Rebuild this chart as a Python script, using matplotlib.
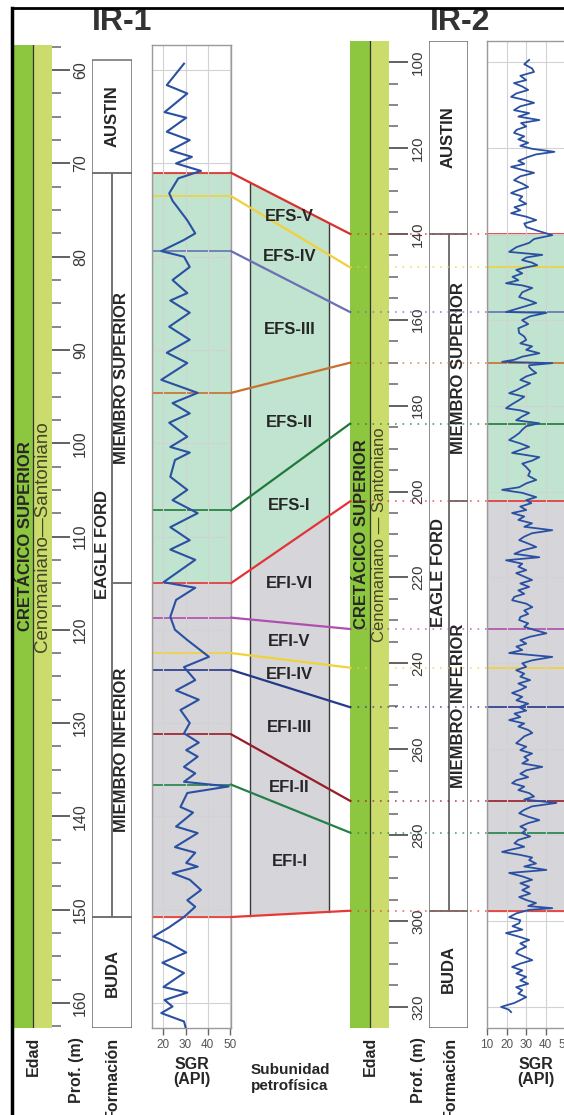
import matplotlib
matplotlib.use('Agg')
import matplotlib.pyplot as plt
from matplotlib.patches import Rectangle
from matplotlib.ticker import MultipleLocator

plt.rcParams['font.family'] = ['Liberation Sans', 'DejaVu Sans']

# ---------------- data ----------------
ir1_depth = [59.3, 61.6, 62.5, 64.5, 65.1, 66.6, 67.5, 68.6, 69.3, 70.0, 70.8, 71.6, 73.2, 74.0,
             76.1, 77.5, 78.2, 79.4, 80.0, 81.1, 82.5, 83.9, 84.7, 86.0, 87.5, 88.9, 90.3, 91.4,
             93.2, 94.6, 95.7, 96.8, 97.8, 99.3, 100.4, 101.0, 101.8, 103.6, 105.0, 106.1, 107.5,
             109.0, 110.4, 111.4, 112.5, 114.9, 115.5, 116.8, 118.6, 120.0, 121.1, 122.9, 124.0,
             125.4, 126.5, 127.5, 128.6, 130.0, 131.1, 132.1, 132.9, 133.6, 134.7, 135.4, 136.3,
             136.8, 137.5, 139.0, 139.6, 141.1, 141.8, 143.3, 143.9, 145.0, 145.4, 146.1, 146.8,
             147.9, 149.0, 149.7, 150.8, 151.9, 152.9, 153.6, 154.6, 155.7, 156.8, 158.3, 158.9,
             159.7, 160.4, 161.1, 162.0, 162.6]
ir1_sgr = [29.3, 21.5, 30.8, 20.5, 30.3, 21.5, 31.9, 23.1, 32.9, 25.7, 37.0, 26.7, 22.6, 24.1,
           30.8, 34.4, 29.3, 19.0, 29.3, 31.9, 24.1, 30.8, 23.1, 31.9, 22.6, 31.9, 21.5, 30.8,
           19.0, 35.5, 24.1, 31.9, 22.6, 30.8, 23.1, 31.9, 25.2, 23.1, 30.8, 24.1, 35.5,
           23.1, 31.9, 23.1, 34.4, 20.0, 34.4, 25.7, 23.1, 25.2, 30.8, 40.6, 29.3,
           34.4, 25.7, 36.0, 27.7, 31.9, 29.3, 36.0, 30.3, 35.5, 29.3, 34.4, 29.3,
           49.5, 30.8, 27.7, 33.4, 25.7, 35.5, 25.2, 34.4, 30.3, 35.5, 24.1, 31.9,
           37.0, 30.8, 34.4, 29.3, 22.6, 15.4, 22.6, 30.3, 19.5, 29.3, 20.0, 30.8,
           20.5, 24.1, 19.0, 29.3, 30.0]

ir2_depth = [99.5, 100.5, 101.5, 102.3, 103.2, 104.2, 104.9, 105.7, 106.5, 107.3, 108.1, 108.8,
             109.5, 110.3, 111.2, 111.9, 112.7, 113.5, 114.2, 115.0, 115.8, 116.5, 117.3, 118.0,
             118.8, 119.5, 120.2, 120.9, 121.5, 122.1, 123.0, 123.7, 124.4, 125.1, 125.8, 126.6,
             127.5, 128.3, 129.1, 129.8, 130.5, 131.3, 132.1, 133.0, 133.8, 134.5, 135.2, 136.0,
             136.8, 137.6, 138.4, 139.3, 140.3, 141.2, 142.1, 143.1, 144.2, 144.9, 145.5, 146.1,
             146.7, 147.3, 147.9, 148.4, 149.2, 150.0, 150.8, 151.5, 152.0, 152.6, 153.6, 154.7,
             155.4, 156.1, 157.2, 158.2, 158.4, 159.2, 160.1, 161.0, 162.0, 163.1, 163.9, 164.7,
             165.5, 166.2, 167.0, 167.8, 168.6, 169.3, 169.8, 170.1, 170.6, 171.0, 171.7, 172.4,
             173.2, 174.0, 174.8, 175.7, 176.4, 177.1, 177.9, 178.7, 179.6, 180.6, 181.1, 181.7,
             182.5, 183.4, 184.1, 184.8, 185.6, 186.4, 187.2, 188.0, 188.8, 189.6, 190.3, 191.0,
             191.5, 192.0, 192.8, 193.5, 194.3, 195.3, 196.3, 197.3, 198.1, 199.0, 199.6, 200.3,
             201.3, 202.0, 202.7, 203.5, 204.3, 205.0, 205.8, 206.6, 207.4, 208.2, 209.0, 209.7,
             210.5, 211.3, 212.1, 212.9, 213.7, 214.5, 215.3, 216.0, 216.8, 217.5, 218.3, 219.0,
             219.8, 220.6, 221.4, 222.2, 223.0, 223.8, 224.5, 225.3, 226.1, 226.9, 227.7, 228.5,
             229.2, 229.9, 230.7, 231.5, 232.2, 233.0, 233.8, 234.6, 235.4, 236.1, 236.9, 237.6,
             238.5, 239.3, 240.0, 240.8, 241.6, 242.4, 243.1, 243.9, 244.7, 245.5, 246.2, 246.9,
             247.8, 248.6, 249.4, 250.2, 251.0, 251.7, 252.5, 253.2, 254.0, 254.7, 255.5, 256.2,
             257.0, 257.8, 258.6, 259.4, 260.2, 261.0, 261.8, 262.5, 263.3, 264.1, 264.9, 265.7,
             266.5, 267.2, 267.9, 268.7, 269.5, 270.2, 271.0, 271.7, 272.5, 273.3, 274.1, 274.9,
             275.7, 276.5, 277.2, 278.0, 278.7, 279.5, 280.3, 281.1, 281.9, 282.7, 283.4, 283.9,
             284.6, 285.2, 285.8, 286.6, 287.3, 288.1, 288.8, 289.6, 290.4, 291.2, 292.0, 292.8,
             293.6, 294.4, 295.1, 295.8, 296.5, 297.0, 297.4, 298.2, 299.1, 299.8, 300.5, 301.2,
             302.0, 302.8, 303.6, 304.4, 305.2, 306.0, 306.8, 307.5, 308.3, 309.1, 309.9, 310.7,
             311.5, 312.2, 313.0, 313.8, 314.6, 315.4, 316.1, 316.9, 317.7, 318.4, 319.1, 319.6,
             320.0, 320.6, 321.2]
ir2_sgr = [31.5, 29, 33, 34, 27, 30, 23.8, 28, 31, 25, 22.3, 29,
           34, 27, 23.8, 31.5, 26, 36.7, 27.4, 30, 25, 23.8, 29, 26,
           31, 27, 33, 44.4, 35, 31, 26, 29, 22.3, 28, 34, 27,
           23.8, 28, 31, 26, 22.3, 28, 26.4, 30, 24, 27, 22.3, 30,
           35.1, 29, 30, 36, 43.3, 34, 31.5, 25, 21.3, 38.2, 30, 27.9,
           33, 35.6, 29, 24.9, 28, 23, 26, 19.7, 28, 33.1, 28, 26.4,
           31, 35.1, 27, 19.7, 40.3, 32, 27.9, 31, 26, 26.4, 29, 30,
           27, 33, 30, 36.7, 28, 24, 17.7, 43.3, 31.5, 31.5, 33, 35.1,
           30, 27, 32, 27.9, 25, 21.3, 29, 26.4, 23, 19.7, 27, 31.5,
           28, 24.9, 36.7, 30, 28, 26.4, 24, 21.3, 27, 31.5, 27, 22.8,
           30, 36.7, 33, 28, 30, 32, 31, 35.1, 30, 26.4, 17.7, 28,
           35.1, 30, 32.6, 27, 30, 22.8, 29, 26, 33, 29, 43.3, 33,
           29, 26.4, 31, 35.1, 28, 24, 36.7, 19.7, 28, 26, 30, 24.9,
           29, 33, 27, 31.5, 26, 29, 24, 22.8, 30, 33.1, 29, 31,
           27, 26.4, 31, 29, 34, 40.3, 32, 27, 30, 25, 28, 21.3,
           43.3, 33, 28, 30, 24.9, 29, 27, 32, 26, 30, 27, 22.8,
           28, 25, 31, 26.4, 30, 24, 27, 21.3, 29, 26, 31, 33.1,
           29, 27, 24.9, 30, 27, 33, 29, 31, 28, 38.2, 30, 27,
           31, 25, 22.8, 29, 26, 31.5, 34, 29, 45.4, 33, 29, 26.4,
           31, 36.7, 31, 27, 30, 27.9, 32, 26, 24, 29, 22, 17.7,
           27, 33, 31.5, 35, 29, 40.3, 21.3, 28, 33, 27, 31.5, 28,
           32, 26.4, 30, 35, 31, 43.3, 31.5, 25, 21.3, 27, 26.4, 23,
           28, 19.7, 26, 31.5, 27, 30, 26, 24.9, 29, 33.1, 27, 22.8,
           28, 25, 30, 27, 31, 24.9, 28, 26, 30, 27, 23.8, 20,
           17.2, 21, 22.3]

# correlated boundaries: depth in IR-1, depth in IR-2, colour
ir1_bounds = [71.0, 73.5, 79.4, 94.6, 107.2, 115.0, 118.7, 122.5, 124.3, 131.2, 136.6, 150.8]
ir2_bounds = [140.0, 147.8, 158.2, 170.0, 184.2, 202.3, 232.0, 241.0, 250.2, 272.0, 279.4, 297.6]
bound_colors = ['#d9302c', '#f2d03b', '#6b6fb3', '#c8702e', '#1f7a3a', '#e5323a',
                '#b04fae', '#f0d23a', '#26388a', '#981c2a', '#25804a', '#e53935']
subunits = ['EFS-V', 'EFS-IV', 'EFS-III', 'EFS-II', 'EFS-I', 'EFI-VI',
            'EFI-V', 'EFI-IV', 'EFI-III', 'EFI-II', 'EFI-I']

# formations: top, Eagle Ford top, superior/inferior, Eagle Ford base
ir1_form = [58.9, 71.0, 115.0, 150.8]
ir2_form = [95.1, 140.0, 202.3, 297.6]
ir1_ylim = (162.7, 57.3)
ir2_ylim = (324.9, 95.1)

DARK_G = '#8dc63f'
LIGHT_G = '#cbdc6c'
GREEN_F = '#c0e4cf'
GRAY_F = '#d6d6da'
CURVE = '#2a50a2'

W, H = 564, 1115
fig = plt.figure(figsize=(W / 100, H / 100), dpi=100)


def add_ax(x0, x1, ytop, ybot, z=1):
    ax = fig.add_axes([x0 / W, 1 - ybot / H, (x1 - x0) / W, (ybot - ytop) / H], zorder=z)
    ax.patch.set_alpha(0)
    return ax


def edad(ax, ylim, major, minor, cret_x, ceno_txt, ceno_fs, lsize, tlen):
    ax.set_xlim(0, 2)
    ax.set_ylim(*ylim)
    ax.axvspan(0, 1, color=DARK_G, lw=0)
    ax.axvspan(1, 2, color=LIGHT_G, lw=0)
    ax.axvline(1, color='#333333', lw=0.9)
    ax.set_xticks([])
    for s in ['top', 'bottom', 'left', 'right']:
        ax.spines[s].set_visible(False)
    ax.yaxis.tick_right()
    ax.yaxis.set_major_locator(MultipleLocator(major))
    ax.yaxis.set_minor_locator(MultipleLocator(minor))
    ax.tick_params(axis='y', which='major', direction='out', length=tlen, width=1.3,
                   color='#555555', labelsize=lsize, labelcolor='#3a3a3a',
                   labelrotation=90, pad=2)
    ax.tick_params(axis='y', which='minor', direction='out', length=6.5, width=1.1,
                   color='#666666')
    for lb in ax.get_yticklabels():
        lb.set_va('center')
    tr = ax.get_xaxis_transform()
    ax.text(cret_x, 0.5, 'CRETÁCICO SUPERIOR', transform=tr, rotation=90,
            ha='center', va='center', fontsize=12, fontweight='bold', color='#262626')
    ax.text(1.5, 0.5, ceno_txt, transform=tr, rotation=90, ha='center', va='center',
            fontsize=ceno_fs, color='#3d4826')


def formation(ax, ylim, f):
    top, eft, mid, efb = f
    bot = ylim[0]
    ax.set_xlim(0, 2)
    ax.set_ylim(*ylim)
    ax.axis('off')
    kw = dict(fill=False, ec='#6e6e6e', lw=1.1)
    ax.add_patch(Rectangle((0, top), 2, eft - top, **kw))
    ax.add_patch(Rectangle((0, eft), 1, efb - eft, **kw))
    ax.add_patch(Rectangle((1, eft), 1, mid - eft, **kw))
    ax.add_patch(Rectangle((1, mid), 1, efb - mid, **kw))
    ax.add_patch(Rectangle((0, efb), 2, bot - efb, **kw))
    tk = dict(rotation=90, ha='center', va='center', fontsize=12, fontweight='bold',
              color='#262626')
    ax.text(1, (top + eft) / 2, 'AUSTIN', **tk)
    ax.text(0.5, (eft + efb) / 2, 'EAGLE FORD', **tk)
    ax.text(1.5, (eft + mid) / 2, 'MIEMBRO SUPERIOR', **tk)
    ax.text(1.5, (mid + efb) / 2, 'MIEMBRO INFERIOR', **tk)
    ax.text(1, (efb + bot) / 2, 'BUDA', **tk)


def sgr(ax, ylim, xlim, xticks, hgrid, depth, vals, f, bnds, lw):
    ax.set_xlim(*xlim)
    ax.set_ylim(*ylim)
    ax.set_xticks(xticks)
    ax.set_yticks(hgrid)
    ax.tick_params(axis='y', length=0, labelleft=False)
    ax.tick_params(axis='x', direction='out', length=5, width=1, color='#666666',
                   labelsize=8.5, labelcolor='#555555', pad=3)
    ax.grid(True, color='#d2d2d2', lw=0.8, zorder=0)
    for s in ax.spines.values():
        s.set_color('#9a9a9a')
        s.set_linewidth(1)
    ax.axhspan(f[1], f[2], color=GREEN_F, lw=0, zorder=0.5)
    ax.axhspan(f[2], f[3], color=GRAY_F, lw=0, zorder=0.5)
    ax.axhspan(f[1], f[3], fill=False, ec='#e9a89a', lw=1, zorder=0.6)
    for d, c in zip(bnds, bound_colors):
        ax.axhline(d, color=c, lw=1.2, zorder=1)
    ax.plot(vals, depth, color=CURVE, lw=lw, zorder=3)
    ax.set_xlabel('SGR\n(API)', fontsize=11.5, fontweight='bold', color='#262626',
                  labelpad=4, linespacing=1.05)


# overlay in pixel coordinates (on top, transparent)
ov = fig.add_axes([0, 0, 1, 1], zorder=10)
ov.set_xlim(0, W)
ov.set_ylim(H, 0)
ov.axis('off')

# IR-1
e1 = add_ax(14, 52, 45, 1028)
edad(e1, ir1_ylim, 10, 2.5, 0.62, 'Cenomaniano—Santoniano', 13.5, 11.5, 13)
f1 = add_ax(92, 132, 45, 1028)
formation(f1, ir1_ylim, ir1_form)
s1 = add_ax(152, 231, 45, 1028)
sgr(s1, ir1_ylim, (14.8, 50.6), [20, 30, 40, 50], list(range(60, 170, 10)),
    ir1_depth, ir1_sgr, ir1_form, ir1_bounds, 1.5)

# IR-2
e2 = add_ax(350, 389, 41, 1028)
edad(e2, ir2_ylim, 20, 5, 0.58, 'Cenomaniano — Santoniano', 12, 11, 14)
f2 = add_ax(429, 468, 41, 1028)
formation(f2, ir2_ylim, ir2_form)
s2 = add_ax(487, 585, 41, 1028)
sgr(s2, ir2_ylim, (10, 60), [10, 20, 30, 40, 50], list(range(100, 340, 20)),
    ir2_depth, ir2_sgr, ir2_form, ir2_bounds, 1.3)

fig.canvas.draw()
inv = ov.transData.inverted()


def to_ov(ax, xa, d):
    return inv.transform(ax.get_yaxis_transform().transform((xa, d)))


xL = to_ov(s1, 1, 0)[0]
xR = to_ov(e2, 0, 0)[0]
xS2 = to_ov(s2, 0, 0)[0]
yL = [to_ov(s1, 1, d)[1] for d in ir1_bounds]
yR = [to_ov(e2, 0, d)[1] for d in ir2_bounds]

cx0, cx1 = 250, 329


def yat(i, x):
    return yL[i] + (x - xL) / (xR - xL) * (yR[i] - yL[i])


# subunit column fills
for i in range(len(subunits)):
    col = GREEN_F if i < 5 else GRAY_F
    ov.fill([cx0, cx1, cx1, cx0], [yat(i, cx0), yat(i, cx1), yat(i + 1, cx1), yat(i + 1, cx0)],
            color=col, lw=0, zorder=1)
    xm = (cx0 + cx1) / 2
    ov.text(xm, (yat(i, xm) + yat(i + 1, xm)) / 2, subunits[i], ha='center', va='center',
            fontsize=12, fontweight='bold', color='#262626', zorder=4)
for xx in (cx0, cx1):
    ov.plot([xx, xx], [yat(0, xx), yat(len(ir1_bounds) - 1, xx)], color='#3a3a3a', lw=1,
            zorder=2)

# correlation lines and dotted continuation
for i, c in enumerate(bound_colors):
    ov.plot([xL, xR], [yL[i], yR[i]], color=c, lw=1.6, zorder=3)
    ov.plot([xR, xS2], [yR[i], yR[i]], color=c, lw=1.2, ls=(0, (1, 3.5)), alpha=0.75,
            zorder=3)

# frame and titles
ov.plot([12, 12], [8, H], color='black', lw=2.5, zorder=5)
ov.plot([12, W], [8, 8], color='black', lw=2, zorder=5)
ov.text(122, 22, 'IR-1', ha='center', va='center', fontsize=23, fontweight='bold',
        color='#333333')
ov.text(460, 22, 'IR-2', ha='center', va='center', fontsize=23, fontweight='bold',
        color='#333333')

# bottom labels
bl = dict(rotation=90, ha='center', va='top', fontsize=11.5, fontweight='bold', color='#262626')
for x, t in [(33, 'Edad'), (77, 'Prof. (m)'), (112, 'Formación'),
             (370, 'Edad'), (419, 'Prof. (m)'), (450, 'Formación')]:
    ov.text(x, 1037, t, **bl)
ov.text(290, 1078, 'Subunidad\npetrofísica', ha='center', va='center', fontsize=11,
        fontweight='bold', color='#262626', linespacing=1.15)

fig.savefig('out.png', dpi=100)
